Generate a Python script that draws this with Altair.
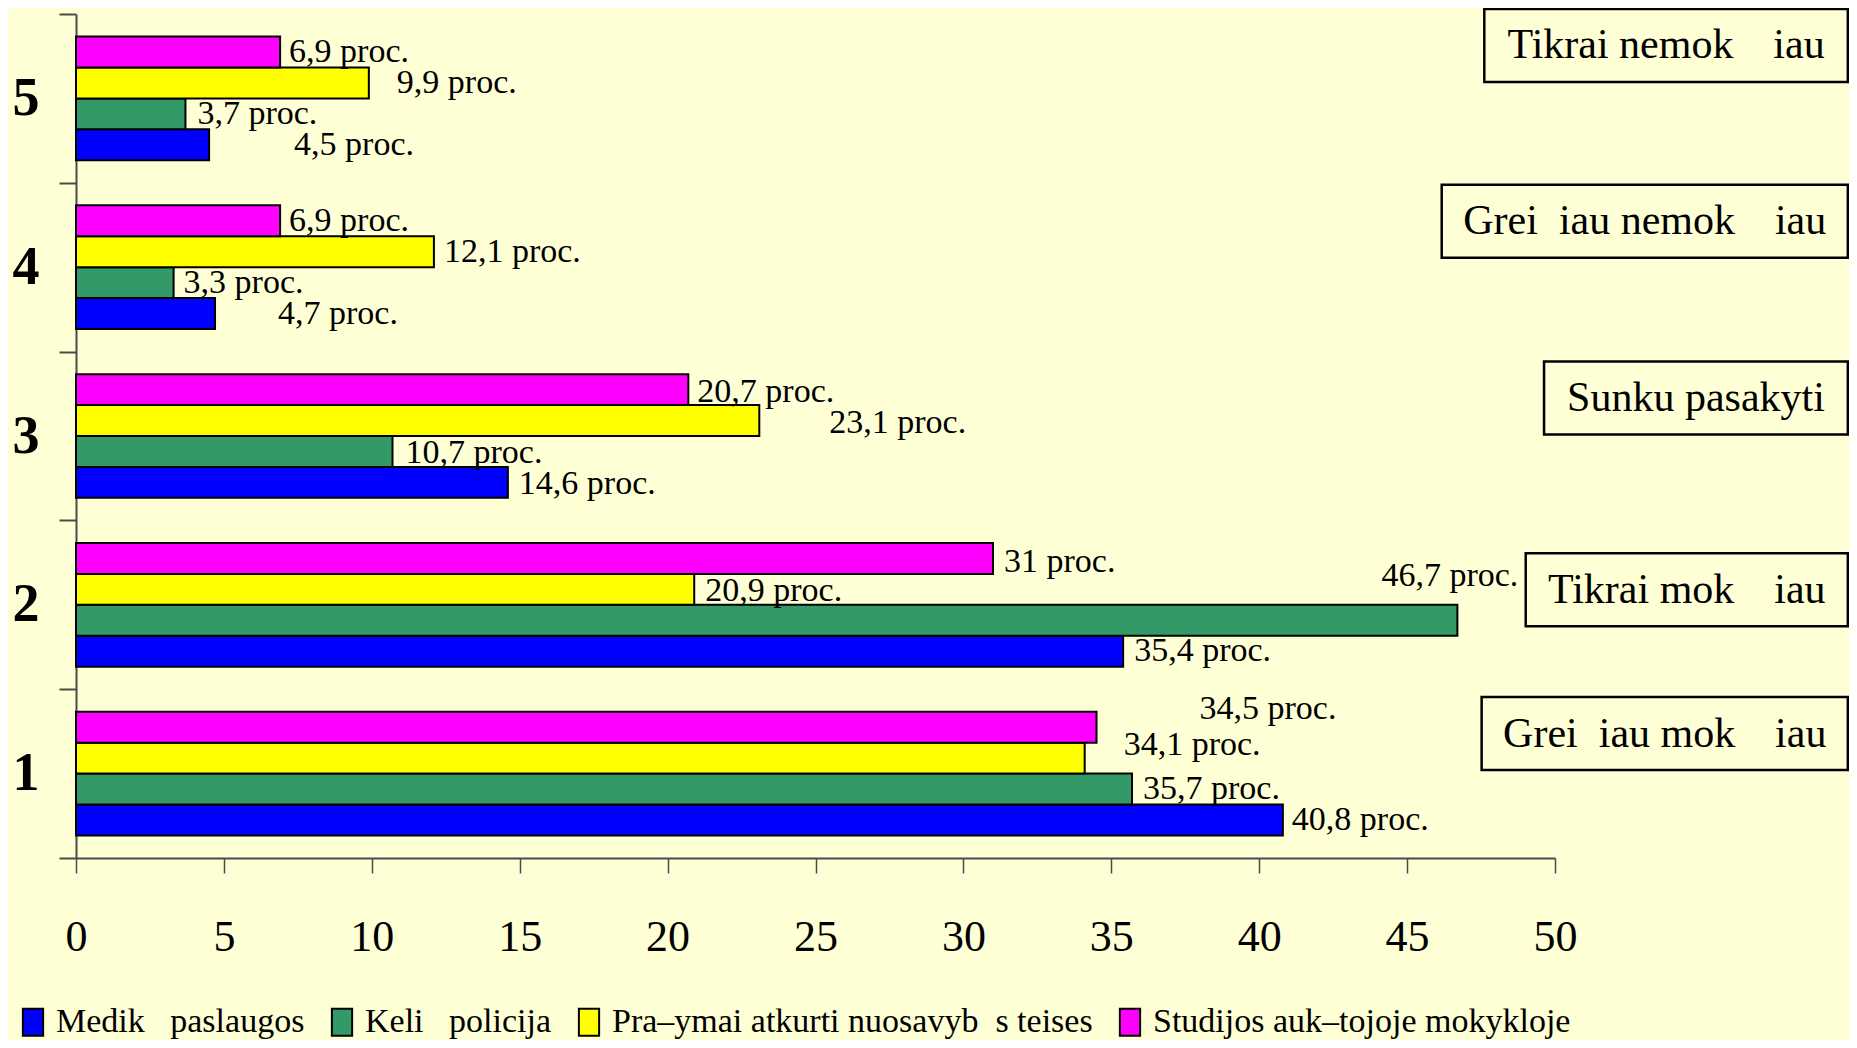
import altair as alt
import pandas as pd

NB = "\u00a0"
TH = "\u2009"

# ---- data -------------------------------------------------------------
categories = ["5", "4", "3", "2", "1"]
series = [
    f"Medik{NB*3}paslaugos",
    f"Keli{NB*3}policija",
    f"Pra–ymai atkurti nuosavyb{NB*2}s teises",
    "Studijos auk–tojoje mokykloje",
]
colors = ["#0000FF", "#339966", "#FFFF00", "#FF00FF"]

medik = [4.5, 4.7, 14.6, 35.4, 40.8]
keliu = [3.7, 3.3, 10.7, 46.7, 35.7]
prasymai = [9.9, 12.1, 23.1, 20.9, 34.1]
studijos = [6.9, 6.9, 20.7, 31, 34.5]
values = [medik, keliu, prasymai, studijos]

# label nudges in px (style: where the labels were dragged to)
label_dx = [
    [85, 63, 11, 11, 9],
    [12, 10, 13, -76, 11],
    [28, 10, 70, 11, 39],
    [9, 9, 9, 11, 103],
]
label_dy = [
    [0, 0, 2, 0, 0],
    [0, 0, 2, -44, 0],
    [0, 0, 2, 2, -13],
    [0, 0, 2, 4, -18],
]

# answer boxes on the right
box_text = [
    f"Tikrai nemok{NB*3}{TH}iau",
    f"Grei{NB*2}iau nemok{NB*3}{TH}iau",
    "Sunku pasakyti",
    f"Tikrai mok{NB*3}{TH}iau",
    f"Grei{NB*2}iau mok{NB*3}{TH}iau",
]
box_left = [47.61, 46.17, 49.63, 49.01, 47.52]
box_right = [59.9, 59.9, 59.9, 59.9, 59.9]
box_dy = [-53, -46, -38, -15, -40]

# ---- tables -----------------------------------------------------------
rows = []
for si, s in enumerate(series):
    for ci, c in enumerate(categories):
        v = values[si][ci]
        rows.append({
            "cat": c,
            "series": s,
            "value": v,
            "label": f"{v:g}".replace(".", ",") + " proc.",
            "ldx": label_dx[si][ci],
            "ldy": label_dy[si][ci],
        })
df = pd.DataFrame(rows)

df_box = pd.DataFrame({
    "cat": categories,
    "text": box_text,
    "left": box_left,
    "right": box_right,
    "mid": [(a + b) / 2 for a, b in zip(box_left, box_right)],
    "bdy": box_dy,
})

FONT = "Liberation Serif"
AXC = "#4a4a4a"
BG = "#FFFFD6"

y_enc = alt.Y(
    "cat:N",
    sort=categories,
    scale=alt.Scale(domain=categories, paddingInner=0, paddingOuter=0),
    axis=alt.Axis(
        title=None, tickBand="extent", tickSize=17, labelPadding=20,
        labelFont=FONT, labelFontSize=54, labelFontWeight="bold", labelColor="black",
        domainColor=AXC, domainWidth=2, tickColor=AXC, tickWidth=2, grid=False,
    ),
)
yoff = alt.YOffset(
    "series:N",
    sort=series[::-1],
    scale=alt.Scale(domain=series[::-1], paddingInner=0, paddingOuter=0.73),
)
x_scale = alt.Scale(domain=[0, 50], range=[0, 1479], nice=False, zero=True)
x_enc = alt.X(
    "value:Q",
    scale=x_scale,
    axis=alt.Axis(
        title=None, values=list(range(0, 51, 5)), tickSize=15, labelPadding=42,
        labelFlush=False, labelOverlap=False,
        labelFont=FONT, labelFontSize=44, labelColor="black",
        domainColor=AXC, domainWidth=2, tickColor=AXC, tickWidth=1.5, grid=False,
    ),
)

bars = alt.Chart(df).mark_bar(stroke="black", strokeWidth=2).encode(
    x=x_enc,
    y=y_enc,
    yOffset=yoff,
    color=alt.Color(
        "series:N",
        scale=alt.Scale(domain=series, range=colors),
        legend=alt.Legend(
            title=None, orient="none", legendX=-60, legendY=991,
            direction="horizontal", columns=4,
            symbolType="M-0.75,-1H0.75V1H-0.75Z", symbolSize=729,
            symbolStrokeColor="black", symbolStrokeWidth=2,
            labelFont=FONT, labelFontSize=34, labelColor="black", labelLimit=0,
            labelOffset=6, columnPadding=20, padding=0,
        ),
    ),
)

labels = alt.Chart(df).mark_text(
    align="left", baseline="middle", font=FONT, fontSize=34, color="black",
    dx=alt.ExprRef(expr="datum.ldx"), dy=alt.ExprRef(expr="datum.ldy"),
).encode(
    x=alt.X("value:Q", scale=x_scale),
    y=y_enc,
    yOffset=yoff,
    text="label:N",
)

boxes = alt.Chart(df_box).mark_rect(
    fill=BG, fillOpacity=0, stroke="black", strokeWidth=2.5,
    height=73, yOffset=alt.ExprRef(expr="datum.bdy"),
).encode(
    x=alt.X("left:Q", scale=x_scale),
    x2="right:Q",
    y=y_enc,
)

box_labels = alt.Chart(df_box).mark_text(
    align="center", baseline="middle", font=FONT, fontSize=42, color="black",
    dy=alt.ExprRef(expr="datum.bdy"),
).encode(
    x=alt.X("mid:Q", scale=x_scale),
    y=y_enc,
    text="text:N",
)

chart = alt.layer(bars, labels, boxes, box_labels).properties(
    width=1772,
    height=844,
    background=BG,
    autosize=alt.AutoSizeParams(type="none"),
    padding={"left": 68, "top": 6, "right": 1, "bottom": 182},
).configure_view(stroke=None)

chart.save("out.html", embed_options={"renderer": "svg", "actions": False})
